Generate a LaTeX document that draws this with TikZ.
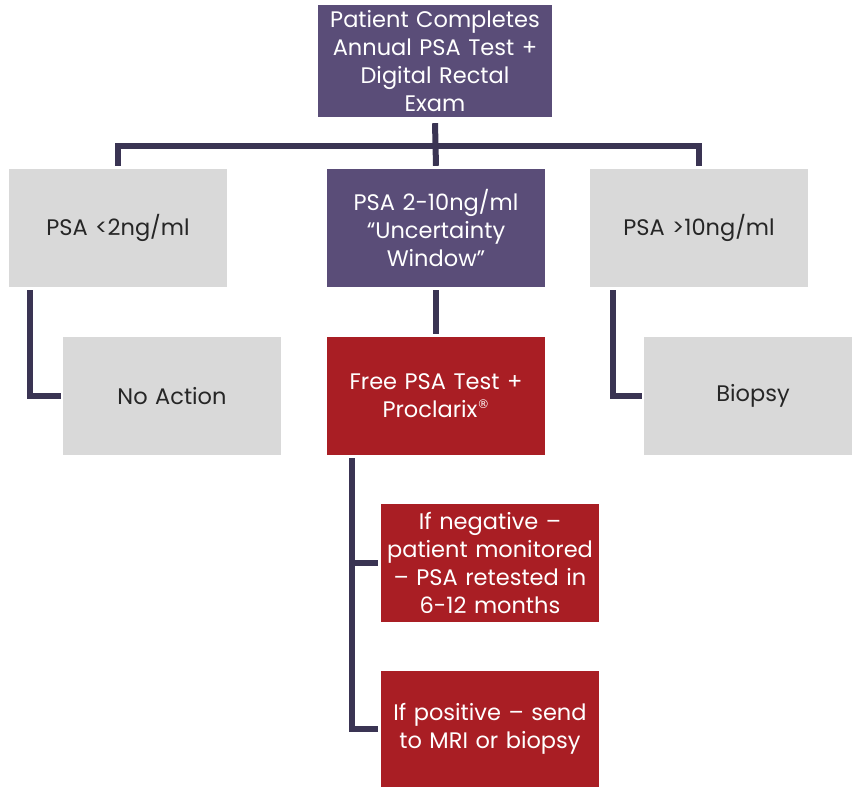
\documentclass[tikz,border=0pt]{standalone}
\usepackage{fontspec}
\setmainfont{Poppins}
\newfontfamily\symfont{DejaVu Sans}
\definecolor{boxpurple}{HTML}{5A4D78}
\definecolor{boxred}{HTML}{A91E24}
\definecolor{boxgray}{HTML}{D9D9D9}
\definecolor{linecol}{HTML}{3A3453}
\definecolor{txtdark}{HTML}{262626}
\newcommand{\regmark}{\raisebox{0.75ex}{\symfont\fontsize{12}{12}\selectfont ®}}
\begin{document}
\begin{tikzpicture}[x=1pt,y=-1pt,
  box/.style={rectangle, minimum width=218pt, minimum height=118pt, inner sep=2pt,
    align=center, text width=214pt, font=\fontsize{22.5}{28.3}\selectfont},
  pbox/.style={box, fill=boxpurple, text=white},
  rbox/.style={box, fill=boxred, text=white},
  gbox/.style={box, fill=boxgray, text=txtdark},
  conn/.style={draw=linecol, line width=6pt}]
\useasboundingbox (0,0) rectangle (852,787);
\node[pbox, minimum width=234pt, minimum height=112pt, text width=230pt] (top) at (435,61)
  {Patient Completes\\Annual PSA Test +\\Digital Rectal\\Exam};
\node[gbox] (left) at (118,228) {PSA <2ng/ml};
\node[pbox] (mid) at (436,228) {PSA 2-10ng/ml\\“Uncertainty\\Window”};
\node[gbox] (right) at (699,228) {PSA >10ng/ml};
\node[gbox] (noact) at (172,396) {No Action};
\node[rbox] (free) at (436,396) {Free PSA Test +\\Proclarix\regmark};
\node[gbox] (biopsy) at (753,396) {Biopsy};
\node[rbox] (neg) at (490,563) {If negative –\\patient monitored\\– PSA retested in\\6-12 months};
\node[rbox, minimum height=116pt] (pos) at (490,729) {If positive – send\\to MRI or biopsy};
\coordinate (bus) at (0,146);
% top tree
\draw[conn] ([yshift=-6pt]top.south) -- ([yshift=3pt]mid.north);
\draw[conn] ([yshift=3pt]left.north) |- (bus -| right.north) -- ([yshift=3pt]right.north);
% side branches
\draw[conn] ([shift={(21pt,-3pt)}]left.south west) |- ([xshift=-2pt]noact.west);
\draw[conn] ([shift={(23pt,-3pt)}]right.south west) |- ([xshift=-2pt]biopsy.west);
\draw[conn] ([yshift=-3pt]mid.south) -- ([yshift=3pt]free.north);
% red branches
\coordinate (rail) at ([shift={(25pt,-3pt)}]free.south west);
\draw[conn] (rail) |- ([xshift=-3pt]pos.west);
\draw[conn] (rail |- neg.west) -- ([xshift=-3pt]neg.west);
\end{tikzpicture}
\end{document}
